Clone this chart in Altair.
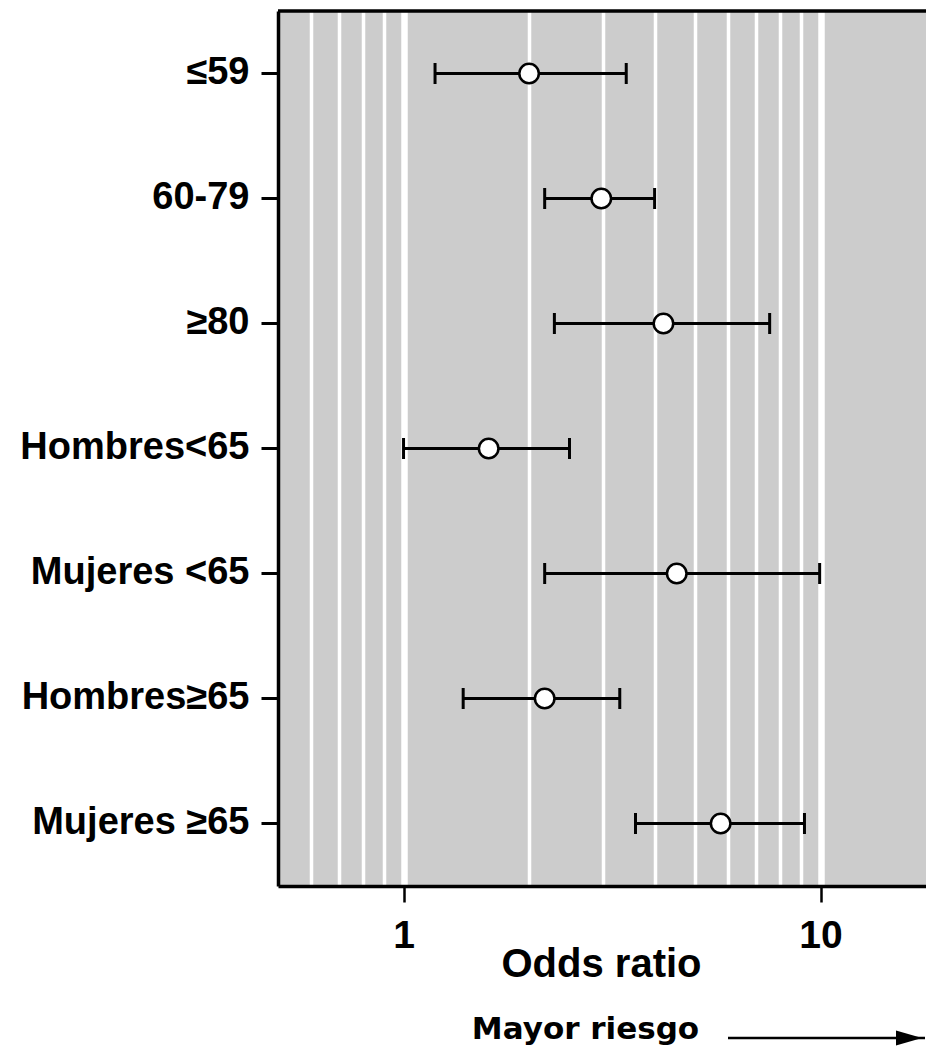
import altair as alt
import pandas as pd

# ---- data ----
categories = ["≤59", "60-79", "≥80", "Hombres<65", "Mujeres <65", "Hombres≥65", "Mujeres ≥65"]
odds_ratio = [2.00, 2.98, 4.20, 1.60, 4.52, 2.18, 5.76]
ci_low = [1.19, 2.18, 2.30, 1.00, 2.18, 1.39, 3.60]
ci_high = [3.42, 4.00, 7.55, 2.50, 9.95, 3.30, 9.15]
grid_values = [0.6, 0.7, 0.8, 0.9, 1, 2, 3, 4, 5, 6, 7, 8, 9, 10]
x_title = "Odds ratio"
note_text = "Mayor riesgo"

df = pd.DataFrame({"cat": categories, "or": odds_ratio, "lo": ci_low, "hi": ci_high})

W, H = 648, 875
FONT = "Liberation Sans"

xscale = alt.Scale(type="log", domain=[0.5, 17.9], nice=False, zero=False)
yscale = alt.Scale(paddingInner=0, paddingOuter=0)

major = "datum.value == 1 || datum.value == 10"

xaxis = alt.Axis(
    values=grid_values,
    format="~g",
    labelExpr=f"({major}) ? datum.label : ''",
    grid=True,
    gridColor="white",
    gridOpacity=1,
    gridWidth={"condition": {"test": major, "value": 6.5}, "value": 3.5},
    ticks=True,
    tickColor="black",
    tickSize=16,
    tickWidth=2.5,
    tickOpacity={"condition": {"test": major, "value": 1}, "value": 0},
    domain=True,
    domainColor="black",
    domainWidth=3.5,
    labelFont=FONT,
    labelFontSize=39,
    labelFontWeight="bold",
    labelColor="black",
    labelBaseline="alphabetic",
    labelPadding=45,
    labelFlush=False,
    labelOverlap=False,
    title=x_title,
    titleFont=FONT,
    titleFontSize=40,
    titleFontWeight="bold",
    titleColor="black",
    titleX=323,
    titleY=90,
    titleAlign="center",
    titleBaseline="alphabetic",
)

yaxis = alt.Axis(
    title=None,
    grid=False,
    domain=True,
    domainColor="black",
    domainWidth=3.5,
    ticks=True,
    tickColor="black",
    tickSize=17,
    tickWidth=3,
    labelFont=FONT,
    labelFontSize=38,
    labelFontWeight="bold",
    labelColor="black",
    labelAlign="right",
    labelBaseline="alphabetic",
    labelOffset=10,
    labelPadding=12,
    labelLimit=0,
)

base = alt.Chart(df)

bars = base.mark_rule(color="black", strokeWidth=3).encode(
    x=alt.X("lo:Q", scale=xscale, axis=xaxis),
    x2="hi:Q",
    y=alt.Y("cat:N", sort=categories, scale=yscale, axis=yaxis),
)

cap_lo = base.mark_tick(color="black", size=21, thickness=3, opacity=1).encode(
    x=alt.X("lo:Q", scale=xscale),
    y=alt.Y("cat:N", sort=categories, scale=yscale),
)
cap_hi = base.mark_tick(color="black", size=21, thickness=3, opacity=1).encode(
    x=alt.X("hi:Q", scale=xscale),
    y=alt.Y("cat:N", sort=categories, scale=yscale),
)

points = base.mark_point(
    shape="circle", filled=True, fill="white", stroke="black", strokeWidth=2.5, size=380, opacity=1
).encode(
    x=alt.X("or:Q", scale=xscale),
    y=alt.Y("cat:N", sort=categories, scale=yscale),
)

one = pd.DataFrame({"t": [note_text]})

top_border = alt.Chart(one).mark_rule(color="black", strokeWidth=3.5).encode(
    x=alt.value(0), x2=alt.value(W), y=alt.value(0)
)

note = alt.Chart(one).mark_text(
    font="DejaVu Sans", fontSize=31, fontWeight="bold", color="black",
    align="center", baseline="alphabetic"
).encode(text="t:N", x=alt.value(307.5), y=alt.value(1028))

arrow_line = alt.Chart(one).mark_rule(color="black", strokeWidth=2.5).encode(
    x=alt.value(450), x2=alt.value(647), y=alt.value(1027)
)
arrow_head = alt.Chart(one).mark_point(
    shape="M-1,-0.58L1,0L-1,0.58Z", filled=True, color="black", size=676, opacity=1
).encode(x=alt.value(631), y=alt.value(1027))

chart = (
    alt.layer(bars, cap_lo, cap_hi, points, top_border, note, arrow_line, arrow_head)
    .properties(
        width=W,
        height=H,
        autosize=alt.AutoSizeParams(type="none"),
        padding={"left": 270, "top": 3, "right": 0, "bottom": 162},
        background="white",
    )
    .configure_view(fill="#cccccc", strokeWidth=0)
)

chart.save("out.html", embed_options={"renderer": "svg", "actions": False})
